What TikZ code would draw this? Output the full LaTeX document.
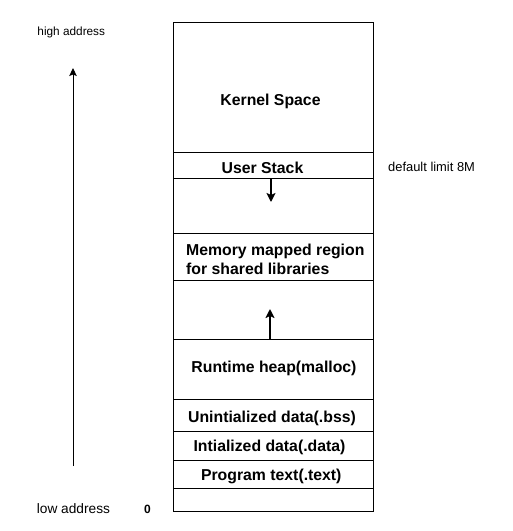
\documentclass[tikz,border=0pt]{standalone}
\usepackage{fontspec}
\setmainfont{Liberation Sans}
\usetikzlibrary{arrows.meta}
\begin{document}
\begin{tikzpicture}[x=1pt,y=-1pt,
  region/.style={draw=black,line width=0.9pt,minimum width=199.5pt,anchor=north west,inner sep=0pt,outer sep=0pt},
  lbl/.style={inner sep=0pt,anchor=base,font=\fontsize{15.8}{18.5}\selectfont\bfseries},
  small/.style={inner sep=0pt,anchor=base west,font=\fontsize{11.8}{14}\selectfont},
  growarrow/.style={line width=2pt,-{Stealth[length=9pt,width=9pt,inset=2pt]}},
  addrarrow/.style={line width=0.9pt,-{Stealth[length=8pt,width=7.5pt,inset=1.5pt]}}]
\useasboundingbox (0,0) rectangle (513,531);
% regions
\node[region,minimum height=130.7pt] (kernel) at (173.5,22) {};
\node[region,minimum height=25.6pt] (stack) at (173.5,152.7) {};
\node[region,minimum height=55pt] (gapA) at (173.5,178.3) {};
\node[region,minimum height=46.7pt] (mmap) at (173.5,233.3) {};
\node[region,minimum height=59.5pt] (gapB) at (173.5,280) {};
\node[region,minimum height=59.5pt] (heap) at (173.5,339.5) {};
\node[region,minimum height=32pt] (bss) at (173.5,399) {};
\node[region,minimum height=29.3pt] (data) at (173.5,431) {};
\node[region,minimum height=28pt] (text) at (173.5,460.3) {};
\node[region,minimum height=23.4pt] (bottom) at (173.5,488.3) {};
% labels
\node[lbl] (tkernel) at (270.5,105.2) {Kernel Space};
\node[lbl] (tstack) at (262.5,173.5) {User Stack};
\node[lbl,anchor=base west,align=left] (tmmap) at (186,274) {Memory mapped region\\for shared libraries};
\node[lbl] (theap) at (274,372.8) {Runtime heap(malloc)};
\node[lbl] (tbss) at (272,422.8) {Unintialized data(.bss)};
\node[lbl] (tdata) at (269.5,451.3) {Intialized data(.data)};
\node[lbl] (ttext) at (271.3,480.6) {Program text(.text)};
% side texts
\node[small] (high) at (37.3,35.9) {high address};
\node[small,font=\fontsize{13.7}{16}\selectfont] (low) at (36.7,513.3) {low address};
\node[inner sep=0pt,anchor=base,font=\fontsize{12}{14}\selectfont\bfseries] (zero) at (147.5,513.3) {0};
\node[small,font=\fontsize{12.9}{15}\selectfont] (limit) at (388,171) {default limit 8M};
% arrows
\coordinate (sA) at (271,178.3);
\coordinate (sB) at (271,202);
\draw[growarrow] (sA) -- (sB);
\coordinate (hA) at (270,339.5);
\coordinate (hB) at (270,309);
\draw[growarrow] (hA) -- (hB);
\coordinate (aA) at (73,466);
\coordinate (aB) at (73,68);
\draw[addrarrow] (aA) -- (aB);
\end{tikzpicture}
\end{document}
